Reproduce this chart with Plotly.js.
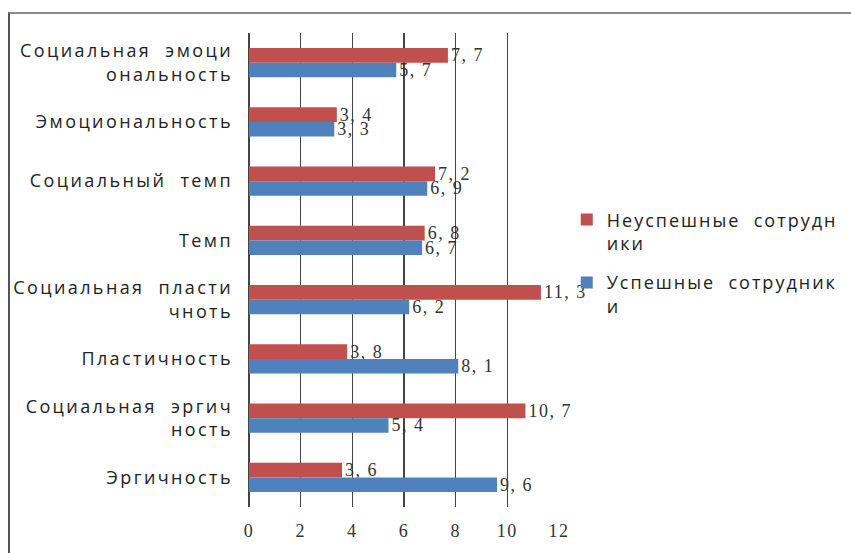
<!DOCTYPE html>
<html>
<head>
<meta charset="utf-8">
<script src="https://cdn.plot.ly/plotly-3.0.1.min.js"></script>
<style>
  html, body { margin: 0; padding: 0; background: #fff; }
  #frame { position: absolute; left: 8px; top: 12px; width: 860px; height: 560px;
           border-top: 2px solid #8a8a8a; border-left: 2px solid #555; }
  #chart { position: absolute; left: 0; top: 0; width: 851px; height: 553px; }
  .ytick text { letter-spacing: 2.4px; }
  .legendtext { letter-spacing: 2px; }
  .bartext, .xtick text { letter-spacing: 1.5px; }
</style>
</head>
<body>
<div id="frame"></div>
<div id="chart"></div>
<script>
// categories listed top to bottom
var categories = [
  "Социальная  эмоци<br>ональность",
  "Эмоциональность",
  "Социальный  темп",
  "Темп",
  "Социальная  пласти<br>чноть",
  "Пластичность",
  "Социальная  эргич<br>ность",
  "Эргичность"
];
var seriesNames = ["Неуспешные  сотрудн<br>ики", "Успешные  сотрудник<br>и"];
var unsuccessful = [7.7, 3.4, 7.2, 6.8, 11.3, 3.8, 10.7, 3.6];
var successful   = [5.7, 3.3, 6.9, 6.7, 6.2, 8.1, 5.4, 9.6];
var xTicks = [0, 2, 4, 6, 8, 10, 12];

function fmt(v) { return v.toFixed(1).replace('.', ', '); }

var labelFont = { family: "Liberation Serif, serif", size: 18, color: "#333" };

var traces = [
  { type: "bar", orientation: "h", name: seriesNames[0], legendgroup: "a", y: categories, x: unsuccessful,
    marker: { color: "#C0504D" }, text: unsuccessful.map(fmt), textposition: "outside",
    textfont: labelFont, constraintext: "none", cliponaxis: false, hoverinfo: "x+y" },
  { type: "bar", orientation: "h", name: seriesNames[1], legendgroup: "b", y: categories, x: successful,
    marker: { color: "#4F81BD" }, text: successful.map(fmt), textposition: "outside",
    textfont: labelFont, constraintext: "none", cliponaxis: false, hoverinfo: "x+y" }
];

var layout = {
  width: 851, height: 553,
  margin: { l: 249, r: 292, t: 33, b: 46, autoexpand: false },
  paper_bgcolor: "rgba(0,0,0,0)", plot_bgcolor: "rgba(0,0,0,0)",
  barmode: "group", bargap: 0.51, bargroupgap: 0,
  showlegend: true,
  legend: { x: 1.025, xanchor: "left", y: 0.515, yanchor: "middle", valign: "top",
            font: { family: "Open Sans, sans-serif", size: 18, color: "#222" },
            bgcolor: "rgba(0,0,0,0)", tracegroupgap: 13 },
  xaxis: { range: [0, 12], tickvals: xTicks, ticktext: xTicks.map(String),
           showgrid: true, gridcolor: "#444", gridwidth: 1.3,
           zeroline: true, zerolinecolor: "#444", zerolinewidth: 1.3,
           showline: false, ticks: "", ticklabelstandoff: 11,
           tickfont: { family: "Liberation Serif, serif", size: 18, color: "#333" },
           fixedrange: true },
  yaxis: { autorange: "reversed", showgrid: false, zeroline: false, showline: false,
           ticks: "", ticklabelstandoff: 15,
           tickfont: { family: "Open Sans, sans-serif", size: 18, color: "#222" },
           fixedrange: true }
};

Plotly.newPlot("chart", traces, layout, { displayModeBar: false, staticPlot: true });
</script>
</body>
</html>
